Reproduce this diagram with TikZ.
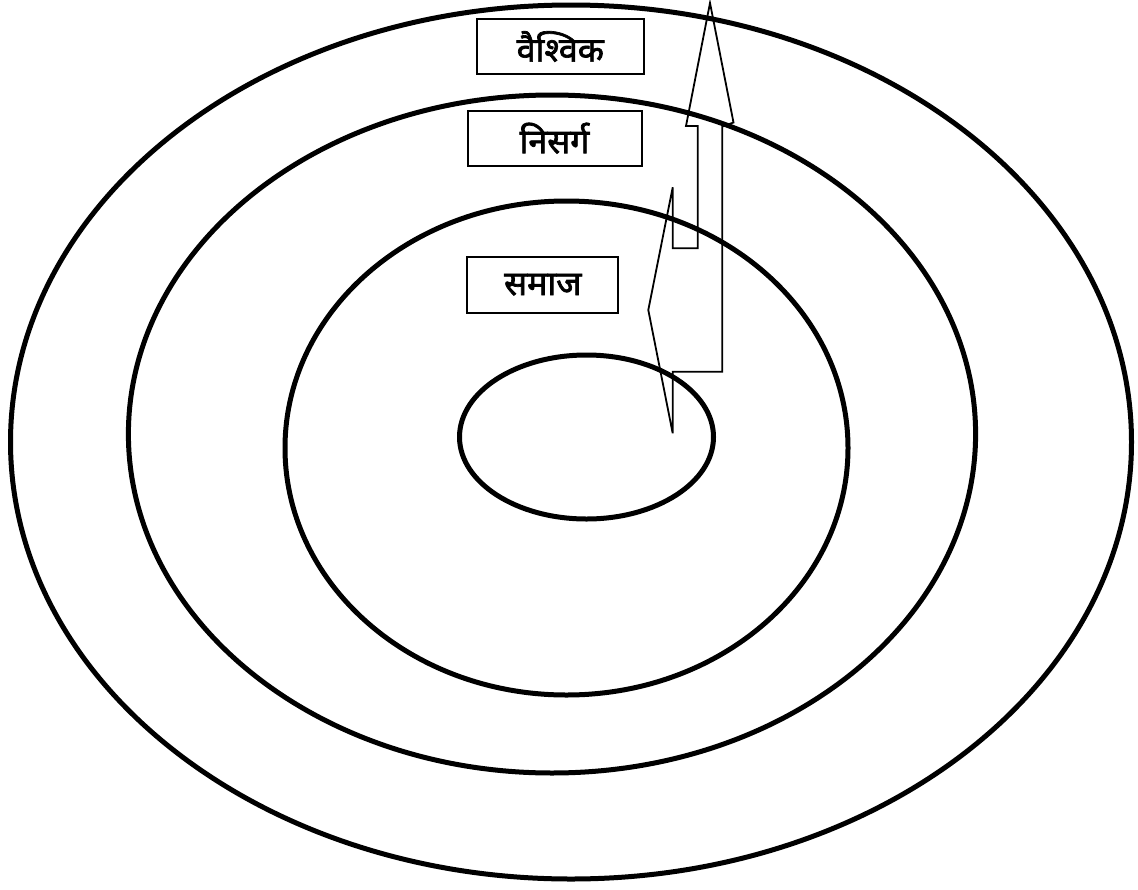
\documentclass[tikz,border=0pt]{standalone}
\usepackage{fontspec}
\newfontfamily\devfont[Script=Devanagari,FakeBold=2]{Noto Sans}
\tikzset{
  ring/.style={draw=black, line width=5pt},
  label box/.style={draw=black, line width=2pt, fill=white, rectangle, inner sep=0pt,
    minimum height=55pt, font=\devfont\fontsize{34}{38}\selectfont},
  arrow shape/.style={draw=black, line width=1.8pt, line join=miter}
}
\begin{document}
\begin{tikzpicture}[x=1pt,y=-1pt]
\useasboundingbox (0,0) rectangle (1138,889);
% rings
\draw[ring] (571,442) ellipse [x radius=560.5, y radius=437];
\draw[ring] (552,434) ellipse [x radius=423.6, y radius=339];
\draw[ring] (566.5,448) ellipse [x radius=281.5, y radius=247];
\draw[ring] (586.5,437) ellipse [x radius=127, y radius=82];
% labels
\node[label box, minimum width=167pt] (global) at (560.3,46.5) {वैश्विक};
\node[label box, minimum width=174pt] (nature) at (554.5,138.2) {निसर्ग};
\node[label box, minimum width=151pt, minimum height=56pt] (society) at (542.8,284.7) {समाज};
% arrow
\coordinate (tip) at (710,3);
\draw[arrow shape]
  (672.7,433.3) -- (672.7,371.7) -- (722.3,371.7) -- (722.3,126.5) -- (733.5,122.5)
  -- (tip) -- (686,126) -- (697.7,126) -- (697.7,248.3) -- (672.7,248.3)
  -- (672.7,187.3) -- (648.3,310) -- cycle;
\end{tikzpicture}
\end{document}
